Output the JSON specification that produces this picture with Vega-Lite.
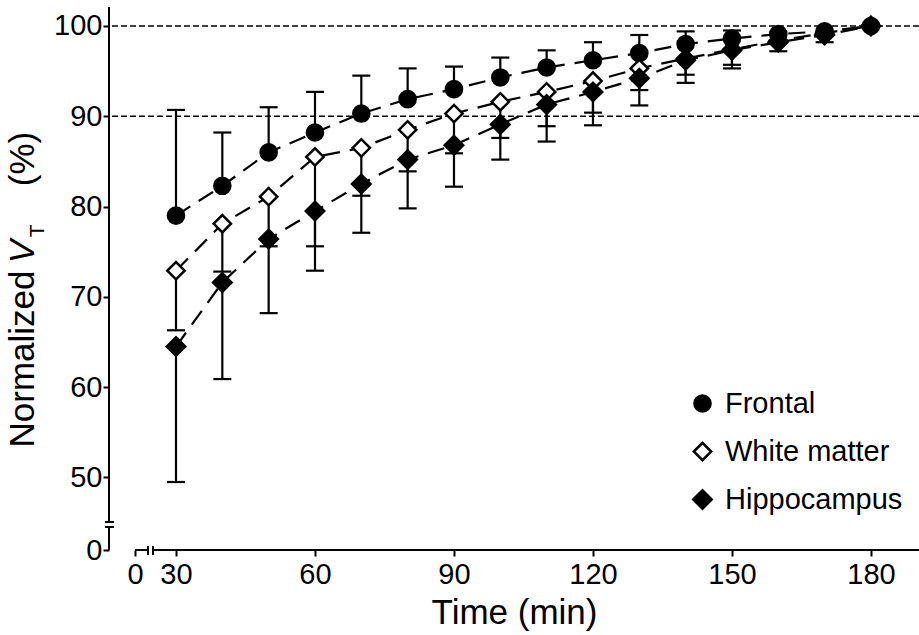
{
  "$schema": "https://vega.github.io/schema/vega-lite/v6.json",
  "width": 810,
  "height": 543,
  "autosize": {"type": "none"},
  "padding": {"left": 109, "top": 7, "right": 0, "bottom": 85},
  "background": "white",
  "data": {"values": [{}]},
  "config": {
    "view": {"stroke": null},
    "font": "Liberation Sans",
    "axis": {
      "domain": false,
      "grid": false,
      "tickColor": "black",
      "tickWidth": 2,
      "tickSize": 6,
      "labelFont": "Liberation Sans",
      "labelFontSize": 29,
      "labelColor": "black",
      "titleFont": "Liberation Sans",
      "titleFontSize": 35,
      "titleFontWeight": "normal",
      "titleColor": "black"
    },
    "legend": {
      "labelFont": "Liberation Sans",
      "labelFontSize": 29,
      "labelColor": "black",
      "labelLimit": 0
    }
  },
  "datasets": {
    "pts": [
      {"region": "Frontal", "t": 30, "v": 79.0, "e": 90.7},
      {"region": "Frontal", "t": 40, "v": 82.3, "e": 88.2},
      {"region": "Frontal", "t": 50, "v": 86.0, "e": 91.0},
      {"region": "Frontal", "t": 60, "v": 88.2, "e": 92.7},
      {"region": "Frontal", "t": 70, "v": 90.3, "e": 94.5},
      {"region": "Frontal", "t": 80, "v": 91.9, "e": 95.3},
      {"region": "Frontal", "t": 90, "v": 93.0, "e": 95.5},
      {"region": "Frontal", "t": 100, "v": 94.3, "e": 96.5},
      {"region": "Frontal", "t": 110, "v": 95.4, "e": 97.3},
      {"region": "Frontal", "t": 120, "v": 96.2, "e": 98.2},
      {"region": "Frontal", "t": 130, "v": 97.0, "e": 99.0},
      {"region": "Frontal", "t": 140, "v": 98.0, "e": 99.4},
      {"region": "Frontal", "t": 150, "v": 98.6, "e": 99.5},
      {"region": "Frontal", "t": 160, "v": 99.1, "e": null},
      {"region": "Frontal", "t": 170, "v": 99.4, "e": null},
      {"region": "Frontal", "t": 180, "v": 100.0, "e": null},
      {"region": "White matter", "t": 30, "v": 72.9, "e": 66.3},
      {"region": "White matter", "t": 40, "v": 78.1, "e": 72.8},
      {"region": "White matter", "t": 50, "v": 81.1, "e": 75.6},
      {"region": "White matter", "t": 60, "v": 85.5, "e": 75.6},
      {"region": "White matter", "t": 70, "v": 86.5, "e": 81.2},
      {"region": "White matter", "t": 80, "v": 88.5, "e": 83.9},
      {"region": "White matter", "t": 90, "v": 90.3, "e": 85.9},
      {"region": "White matter", "t": 100, "v": 91.6, "e": 87.6},
      {"region": "White matter", "t": 110, "v": 92.7, "e": 88.9},
      {"region": "White matter", "t": 120, "v": 93.9, "e": 90.4},
      {"region": "White matter", "t": 130, "v": 95.3, "e": 92.9},
      {"region": "White matter", "t": 140, "v": 96.4, "e": 94.6},
      {"region": "White matter", "t": 150, "v": 97.4, "e": 95.7},
      {"region": "White matter", "t": 160, "v": 98.4, "e": null},
      {"region": "White matter", "t": 170, "v": 99.2, "e": null},
      {"region": "White matter", "t": 180, "v": 100.0, "e": null},
      {"region": "Hippocampus", "t": 30, "v": 64.5, "e": 49.5},
      {"region": "Hippocampus", "t": 40, "v": 71.6, "e": 60.9},
      {"region": "Hippocampus", "t": 50, "v": 76.4, "e": 68.2},
      {"region": "Hippocampus", "t": 60, "v": 79.5, "e": 72.9},
      {"region": "Hippocampus", "t": 70, "v": 82.5, "e": 77.1},
      {"region": "Hippocampus", "t": 80, "v": 85.2, "e": 79.8},
      {"region": "Hippocampus", "t": 90, "v": 86.8, "e": 82.2},
      {"region": "Hippocampus", "t": 100, "v": 89.1, "e": 85.2},
      {"region": "Hippocampus", "t": 110, "v": 91.3, "e": 87.2},
      {"region": "Hippocampus", "t": 120, "v": 92.7, "e": 89.0},
      {"region": "Hippocampus", "t": 130, "v": 94.2, "e": 91.2},
      {"region": "Hippocampus", "t": 140, "v": 96.2, "e": 93.7},
      {"region": "Hippocampus", "t": 150, "v": 97.3, "e": 95.3},
      {"region": "Hippocampus", "t": 160, "v": 98.2, "e": 97.2},
      {"region": "Hippocampus", "t": 170, "v": 99.0, "e": 98.2},
      {"region": "Hippocampus", "t": 180, "v": 100.0, "e": null}
    ],
    "refs": [{"v": 90}, {"v": 100}]
  },
  "layer": [
    {
      "data": {"name": "pts"},
      "mark": {"type": "point", "opacity": 0},
      "encoding": {
        "x": {
          "field": "t", "type": "quantitative",
          "scale": {"domain": [15.54, 190.37], "nice": false, "zero": false},
          "axis": {
            "values": [21.15, 30, 60, 90, 120, 150, 180],
            "labelExpr": "datum.value < 25 ? '0' : datum.label",
            "title": "Time (min)",
            "labelPadding": 4,
            "titlePadding": 6,
            "labelFlush": false
          }
        },
        "y": {
          "field": "v", "type": "quantitative",
          "scale": {"domain": [41.97, 102.1], "nice": false, "zero": false},
          "axis": {
            "values": [41.97, 50, 60, 70, 80, 90, 100],
            "labelExpr": "datum.value < 45 ? '0' : datum.label",
            "title": null,
            "labelPadding": 1,
            "labelFlush": false
          }
        }
      }
    },
    {
      "data": {"name": "refs"},
      "mark": {"type": "rule", "color": "black", "strokeWidth": 1.5, "strokeDash": [6, 3]},
      "encoding": {"y": {"field": "v", "type": "quantitative"}}
    },
    {
      "mark": {"type": "rule", "color": "black", "strokeWidth": 2},
      "encoding": {
        "x": {"datum": 15.54}, "y": {"datum": 41.97}, "y2": {"datum": 44.52}
      }
    },
    {
      "mark": {"type": "rule", "color": "black", "strokeWidth": 2},
      "encoding": {
        "x": {"datum": 15.54}, "y": {"datum": 45.07}, "y2": {"datum": 102.1}
      }
    },
    {
      "mark": {"type": "rule", "color": "black", "strokeWidth": 2},
      "encoding": {
        "x": {"datum": 14.68}, "x2": {"datum": 16.62}, "y": {"datum": 44.52}
      }
    },
    {
      "mark": {"type": "rule", "color": "black", "strokeWidth": 2},
      "encoding": {
        "x": {"datum": 14.68}, "x2": {"datum": 16.62}, "y": {"datum": 45.07}
      }
    },
    {
      "mark": {"type": "rule", "color": "black", "strokeWidth": 2},
      "encoding": {
        "x": {"datum": 21.15}, "x2": {"datum": 23.96}, "y": {"datum": 41.97}
      }
    },
    {
      "mark": {"type": "rule", "color": "black", "strokeWidth": 2},
      "encoding": {
        "x": {"datum": 25.04}, "x2": {"datum": 190.37}, "y": {"datum": 41.97}
      }
    },
    {
      "mark": {"type": "rule", "color": "black", "strokeWidth": 2},
      "encoding": {
        "x": {"datum": 23.96}, "y": {"datum": 42.41}, "y2": {"datum": 41.42}
      }
    },
    {
      "mark": {"type": "rule", "color": "black", "strokeWidth": 2},
      "encoding": {
        "x": {"datum": 25.04}, "y": {"datum": 42.41}, "y2": {"datum": 41.42}
      }
    },
    {
      "data": {"name": "pts"},
      "transform": [{"filter": "isValid(datum.e)"}],
      "mark": {"type": "rule", "color": "black", "strokeWidth": 2.2},
      "encoding": {
        "x": {"field": "t", "type": "quantitative"},
        "y": {"field": "v", "type": "quantitative"},
        "y2": {"field": "e"}
      }
    },
    {
      "data": {"name": "pts"},
      "transform": [{"filter": "isValid(datum.e)"}],
      "mark": {"type": "tick", "color": "black", "orient": "horizontal", "size": 18, "thickness": 2.2, "opacity": 1},
      "encoding": {
        "x": {"field": "t", "type": "quantitative"},
        "y": {"field": "e", "type": "quantitative"}
      }
    },
    {
      "data": {"name": "pts"},
      "mark": {"type": "line", "color": "black", "strokeWidth": 2.2, "strokeDash": [17, 10]},
      "encoding": {
        "x": {"field": "t", "type": "quantitative"},
        "y": {"field": "v", "type": "quantitative"},
        "detail": {"field": "region"}
      }
    },
    {
      "data": {"name": "pts"},
      "mark": {"type": "point", "filled": false, "opacity": 1, "stroke": "black", "strokeWidth": 2.5},
      "encoding": {
        "x": {"field": "t", "type": "quantitative"},
        "y": {"field": "v", "type": "quantitative"},
        "shape": {
          "field": "region", "type": "nominal",
          "scale": {"domain": ["Frontal", "White matter", "Hippocampus"], "range": ["circle", "diamond", "diamond"]},
          "legend": {
            "title": null,
            "orient": "none",
            "legendX": 579,
            "legendY": 382,
            "padding": 0,
            "rowPadding": 18,
            "labelOffset": 8,
            "symbolStrokeColor": "black",
            "symbolStrokeWidth": 2.5,
            "symbolOpacity": 1
          }
        },
        "fill": {
          "field": "region", "type": "nominal",
          "scale": {"domain": ["Frontal", "White matter", "Hippocampus"], "range": ["black", "white", "black"]}
        },
        "size": {
          "field": "region", "type": "nominal",
          "scale": {"domain": ["Frontal", "White matter", "Hippocampus"], "range": [260, 340, 330]}
        }
      }
    },
    {
      "mark": {"type": "text", "text": "Normalized", "angle": 270, "fontSize": 35, "align": "center", "baseline": "middle", "color": "black"},
      "encoding": {"x": {"datum": -3.02}, "y": {"datum": 63.12}}
    },
    {
      "mark": {"type": "text", "text": "V", "angle": 270, "fontSize": 35, "fontStyle": "italic", "align": "center", "baseline": "middle", "color": "black"},
      "encoding": {"x": {"datum": -3.02}, "y": {"datum": 75.03}}
    },
    {
      "mark": {"type": "text", "text": "T", "angle": 270, "fontSize": 21, "align": "center", "baseline": "middle", "color": "black"},
      "encoding": {"x": {"datum": 0.11}, "y": {"datum": 77.3}}
    },
    {
      "mark": {"type": "text", "text": "(%)", "angle": 270, "fontSize": 35, "align": "center", "baseline": "middle", "color": "black"},
      "encoding": {"x": {"datum": -3.02}, "y": {"datum": 85.27}}
    }
  ]
}
